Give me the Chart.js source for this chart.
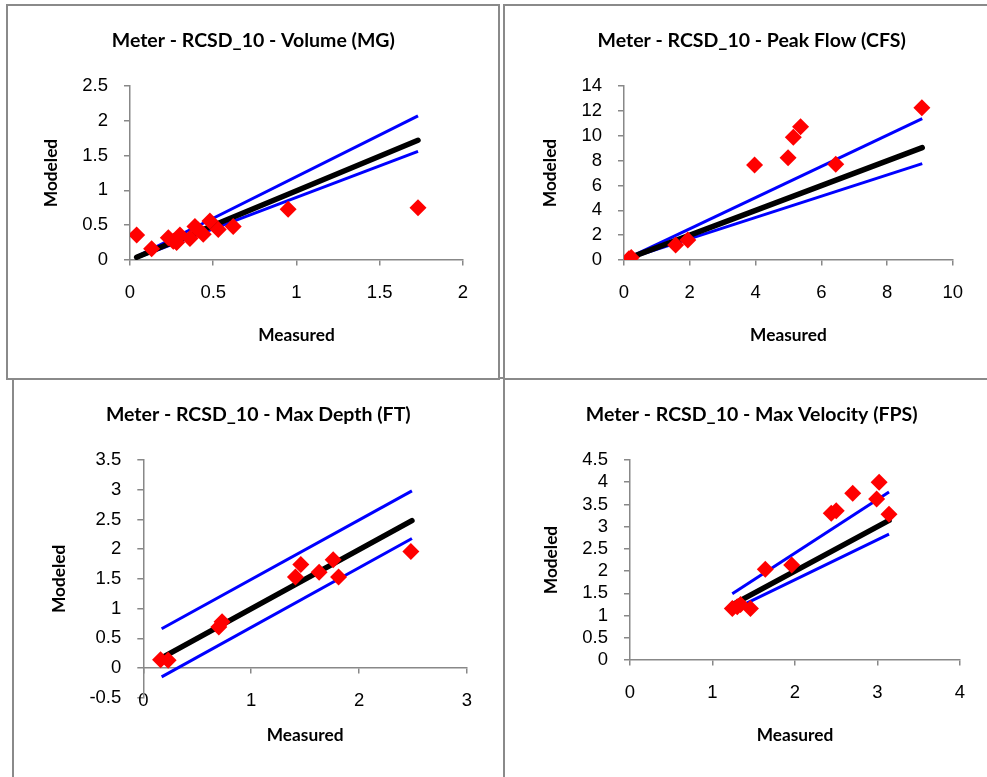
<!DOCTYPE html>
<html><head><meta charset="utf-8">
<script src="https://cdn.jsdelivr.net/npm/chart.js@4.4.1/dist/chart.umd.min.js"></script>
<style>
html,body{margin:0;padding:0;background:#fff;overflow:hidden;width:987px;height:777px;}
.box{position:absolute;border:2px solid #8a8a8a;box-sizing:border-box;background:#fff;}
canvas{position:absolute;}
</style></head><body>
<div class="box" style="left:12px;top:377px;width:500px;height:420px"></div>
<div class="box" style="left:503px;top:377px;width:500px;height:420px"></div>
<div class="box" style="left:6px;top:4px;width:494px;height:376px"></div>
<div class="box" style="left:503px;top:4px;width:500px;height:376px"></div>
<canvas id="c1"></canvas><canvas id="c2"></canvas><canvas id="c3"></canvas><canvas id="c4"></canvas>
<script>
// ---- Volume (MG) ----
const volMeasured = [0.04, 0.13, 0.23, 0.26, 0.28, 0.30, 0.36, 0.39, 0.41, 0.44, 0.48, 0.53, 0.62, 0.95, 1.73];
const volModeled  = [0.36, 0.16, 0.32, 0.27, 0.25, 0.36, 0.31, 0.48, 0.43, 0.37, 0.56, 0.44, 0.48, 0.73, 0.75];
const volLineX    = [0.04, 1.73];
const volLine1to1 = [0.04, 1.72];
const volUpper    = [0.05, 2.07];
const volLower    = [0.03, 1.56];
// ---- Peak Flow (CFS) ----
const pkMeasured = [0.15, 0.22, 1.57, 1.94, 3.97, 4.99, 5.15, 5.37, 6.44, 9.06];
const pkModeled  = [0.10, 0.20, 1.21, 1.61, 7.64, 8.23, 9.87, 10.73, 7.70, 12.26];
const pkLineX    = [0.15, 9.07];
const pkLine1to1 = [0.15, 9.04];
const pkUpper    = [0.19, 11.37];
const pkLower    = [0.13, 7.75];
// ---- Max Depth (FT) ----
const dpMeasured = [0.16, 0.23, 0.70, 0.73, 1.41, 1.46, 1.63, 1.76, 1.81, 2.48];
const dpModeled  = [0.14, 0.13, 0.69, 0.78, 1.53, 1.74, 1.61, 1.82, 1.53, 1.96];
const dpLineX    = [0.17, 2.49];
const dpLine1to1 = [0.17, 2.48];
const dpUpper    = [0.66, 2.98];
const dpLower    = [-0.15, 2.18];
// ---- Max Velocity (FPS) ----
const vlMeasured = [1.24, 1.30, 1.34, 1.46, 1.64, 1.96, 2.44, 2.50, 2.70, 2.99, 3.02, 3.14];
const vlModeled  = [1.16, 1.20, 1.25, 1.16, 2.04, 2.14, 3.30, 3.36, 3.75, 3.62, 4.00, 3.28];
const vlLineX    = [1.24, 3.14];
const vlLine1to1 = [1.24, 3.14];
const vlUpper    = [1.49, 3.78];
const vlLower    = [1.12, 2.83];

const titles = ['Meter - RCSD_10 - Volume (MG)', 'Meter - RCSD_10 - Peak Flow (CFS)',
                'Meter - RCSD_10 - Max Depth (FT)', 'Meter - RCSD_10 - Max Velocity (FPS)'];
const xAxisTitle = 'Measured';
const yAxisTitle = 'Modeled';

const xScales = [{min:0,max:2,step:0.5},{min:0,max:10,step:2},{min:0,max:3,step:1},{min:0,max:4,step:1}];
const yScales = [{min:0,max:2.5,step:0.5},{min:0,max:14,step:2},{min:-0.5,max:3.5,step:0.5},{min:0,max:4.5,step:0.5}];

// layout (page pixels)
const layouts = [
  {top:6,   H:372, tcx:253.3, tcy:41,    L:130,   R:465,   T:86,  B:260,   ytx:51.7, xty:335, y0:260},
  {top:6,   H:372, tcx:751.7, tcy:41,    L:624,   R:960,   T:86,  B:260,   ytx:550,  xty:335, y0:260},
  {top:379, H:398, tcx:258.3, tcy:414.3, L:143.3, R:468.3, T:460, B:697.7, ytx:59.3, xty:735, y0:667.7},
  {top:379, H:398, tcx:751.7, tcy:414.3, L:630,   R:961.7, T:460, B:660,   ytx:551,  xty:735, y0:660}
];

function pts(xs, ys){ return xs.map((x,i)=>({x:x, y:ys[i]})); }
function fmt(v){ return String(+(+v).toFixed(2)); }

const panelData = [
  [volMeasured, volModeled, volLineX, volLine1to1, volUpper, volLower],
  [pkMeasured, pkModeled, pkLineX, pkLine1to1, pkUpper, pkLower],
  [dpMeasured, dpModeled, dpLineX, dpLine1to1, dpUpper, dpLower],
  [vlMeasured, vlModeled, vlLineX, vlLine1to1, vlUpper, vlLower]
];

const TICK_FONT = {family:"'Liberation Sans', Arial, sans-serif", size:18.5};
const TITLE_FONT = {family:"Lato, 'Open Sans', sans-serif", weight:'bold', size:19.5};
const AX_FONT = {family:"Lato, 'Open Sans', sans-serif", weight:'bold', size:17.3};
const AXIS_COLOR = '#888';

for (let k=0;k<4;k++){
  const Lo = layouts[k];
  const boxLeft = 2*Lo.tcx - Lo.R;
  const ox = Math.floor(boxLeft - 20);
  const W = Math.ceil(Lo.R + 20) - ox;
  const pl = boxLeft - ox, pr = ox + W - Lo.R;
  const oy = Lo.top, H = Lo.H;
  const cv = document.getElementById('c'+(k+1));
  cv.width = W; cv.height = H;
  cv.style.left = ox+'px'; cv.style.top = oy+'px';
  cv.style.width = W+'px'; cv.style.height = H+'px';

  const tlh = TITLE_FONT.size*1.2;
  const tPadTop = Lo.tcy - oy - tlh/2;
  const tPadBot = (Lo.T - oy) - tPadTop - tlh;
  const xh = H - (Lo.B - oy);
  const yw = Lo.L - boxLeft;
  const xtOffset = Lo.y0 + xh - Lo.xty;
  const xtPadBot = xtOffset - AX_FONT.size*1.2/2;
  const ytPad = (Lo.ytx - boxLeft) - AX_FONT.size/2;
  const xTickPad = 33 - 5 - TICK_FONT.size*1.2/2;

  const d = panelData[k];
  const xs = xScales[k], ys = yScales[k];
  new Chart(cv, {
    type:'scatter',
    data:{datasets:[
      {label:'Data', data:pts(d[0], d[1]), pointStyle:'rectRot', pointRadius:8.5, pointHoverRadius:8.5,
       backgroundColor:'#ff0000', borderColor:'#ff0000', borderWidth:0, order:0},
      {label:'1:1', data:pts(d[2], d[3]), showLine:true, pointRadius:0, borderColor:'#000', borderWidth:5.5,
       borderCapStyle:'round', order:1},
      {label:'Upper', data:pts(d[2], d[4]), showLine:true, pointRadius:0, borderColor:'#0000ff', borderWidth:3, order:2},
      {label:'Lower', data:pts(d[2], d[5]), showLine:true, pointRadius:0, borderColor:'#0000ff', borderWidth:3, order:2}
    ]},
    options:{
      responsive:false, animation:false, devicePixelRatio:1,
      layout:{padding:{left:pl, right:pr, top:0, bottom:xh}},
      plugins:{
        legend:{display:false}, tooltip:{enabled:false},
        title:{display:true, text:titles[k], color:'#000', font:TITLE_FONT, padding:{top:tPadTop, bottom:tPadBot}}
      },
      scales:{
        x:{type:'linear', position:{y:0}, min:xs.min, max:xs.max,
           ticks:{stepSize:xs.step, autoSkip:false, maxRotation:0, padding:xTickPad, font:TICK_FONT, color:'#000', callback:fmt},
           grid:{drawOnChartArea:false, drawTicks:true, tickLength:5, color:AXIS_COLOR, lineWidth:1.5},
           border:{display:true, color:AXIS_COLOR, width:1.5},
           title:{display:true, text:xAxisTitle, color:'#000', font:AX_FONT, padding:{top:0, bottom:xtPadBot}},
           afterFit:(s)=>{ s.height = xh; }
        },
        y:{type:'linear', position:'left', min:ys.min, max:ys.max,
           ticks:{stepSize:ys.step, autoSkip:false, padding:16, font:TICK_FONT, color:'#000', callback:fmt},
           grid:{drawOnChartArea:false, drawTicks:true, tickLength:6, color:AXIS_COLOR, lineWidth:1.5},
           border:{display:true, color:AXIS_COLOR, width:1.5},
           title:{display:true, text:yAxisTitle, color:'#000', font:Object.assign({lineHeight:1}, AX_FONT), padding:{top:ytPad, bottom:0}},
           afterFit:(s)=>{ s.width = yw; }
        }
      }
    }
  });
}
</script>
</body></html>
